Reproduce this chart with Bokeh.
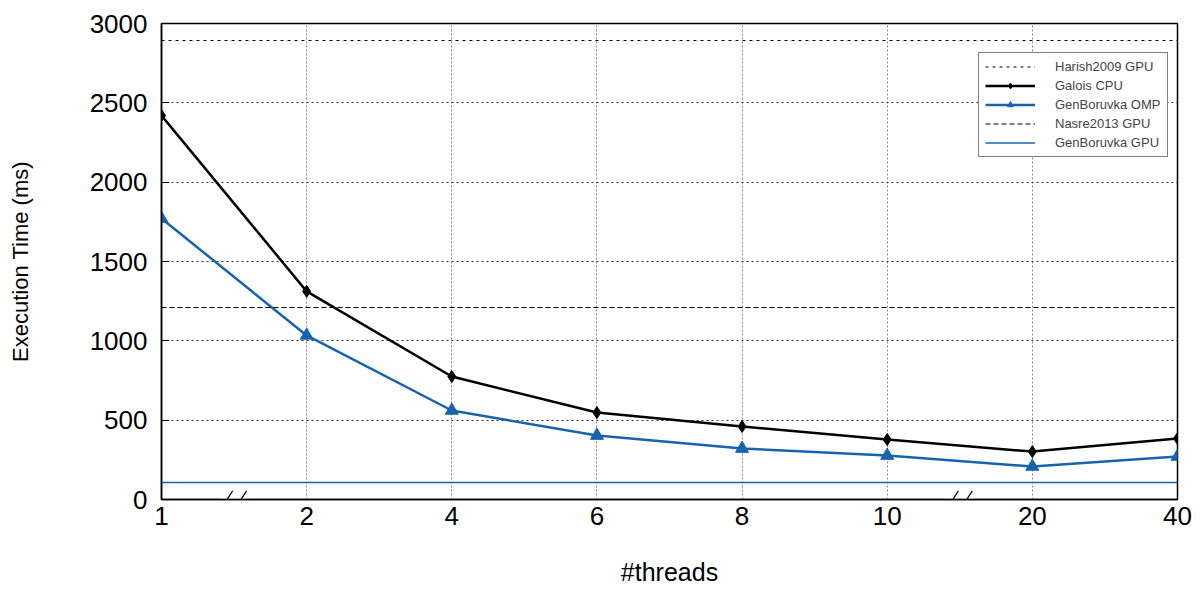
from bokeh.plotting import figure
from bokeh.models import FixedTicker, Legend, LegendItem, Range1d
from bokeh.embed import file_html
from bokeh.resources import INLINE

threads = ["1", "2", "4", "6", "8", "10", "20", "40"]
galois_cpu = [2420, 1312, 775, 548, 460, 378, 302, 384]
genboruvka_omp = [1771, 1034, 561, 403, 321, 277, 208, 271]
harish2009_gpu = 2893
nasre2013_gpu = 1210
genboruvka_gpu = 107
breaks_after = ["1", "10"]

FONT = "Liberation Sans"
BLUE = "#1764ad"

xs = list(range(len(threads)))

p = figure(width=1202, height=590, output_backend="svg", toolbar_location=None,
           x_range=Range1d(0, len(threads) - 1), y_range=Range1d(0, 3000),
           min_border_left=161, min_border_right=25, min_border_top=23, min_border_bottom=91)
p.background_fill_color = "white"
p.border_fill_color = "white"
p.outline_line_color = "black"
p.outline_line_width = 1.5

r_h = p.line(xs, [harish2009_gpu] * len(xs), line_color="black", line_width=1.2, line_dash="3 4")
r_g = p.line(xs, galois_cpu, line_color="black", line_width=2.5)
r_gm = p.scatter(xs, galois_cpu, marker="diamond", size=12, color="black")
r_o = p.line(xs, genboruvka_omp, line_color=BLUE, line_width=2.5)
r_om = p.scatter(xs, genboruvka_omp, marker="triangle", size=13, fill_color=BLUE, line_color=BLUE)
r_n = p.line(xs, [nasre2013_gpu] * len(xs), line_color="black", line_width=1.2, line_dash="5 3")
r_gg = p.line(xs, [genboruvka_gpu] * len(xs), line_color=BLUE, line_width=1.3)

# axis break marks
for b in breaks_after:
    i = threads.index(b)
    c = i + 0.5
    p.rect([c], [0], width=0.2, height=14, fill_color="white", line_color=None)
    for dx in (-0.048, 0.048):
        p.segment([c + dx - 0.038], [-54], [c + dx + 0.038], [54], line_color="black", line_width=1.2)

p.xaxis.ticker = FixedTicker(ticks=xs)
p.xaxis.major_label_overrides = {i: t for i, t in enumerate(threads)}
p.yaxis.ticker = FixedTicker(ticks=[0, 500, 1000, 1500, 2000, 2500, 3000])

for ax in (p.xaxis[0], p.yaxis[0]):
    ax.axis_line_color = "black"
    ax.axis_line_width = 1.5
    ax.major_label_text_font = FONT
    ax.major_label_text_font_size = "26px"
    ax.major_label_text_color = "black"
    ax.axis_label_text_font = FONT
    ax.axis_label_text_font_style = "normal"
    ax.axis_label_text_color = "black"
    ax.minor_tick_line_color = None
    ax.major_tick_out = 0
    ax.major_tick_in = 8
    ax.major_tick_line_color = "black"

p.xaxis.axis_label = "#threads"
p.yaxis.axis_label = "Execution Time (ms)"
p.xaxis.axis_label_text_font_size = "25px"
p.yaxis.axis_label_text_font_size = "22px"
p.xaxis.major_tick_line_color = None
p.xaxis.major_label_standoff = 7
p.yaxis.major_label_standoff = 14
p.xaxis.axis_label_standoff = 30
p.yaxis.axis_label_standoff = 54

p.xgrid.grid_line_color = "#888888"
p.xgrid.grid_line_dash = "2 2"
p.xgrid.grid_line_width = 1
p.ygrid.grid_line_color = "#333333"
p.ygrid.grid_line_dash = "2 3"
p.ygrid.grid_line_width = 1

legend = Legend(items=[
    LegendItem(label="Harish2009 GPU", renderers=[r_h]),
    LegendItem(label="Galois CPU", renderers=[r_g, r_gm]),
    LegendItem(label="GenBoruvka OMP", renderers=[r_o, r_om]),
    LegendItem(label="Nasre2013 GPU", renderers=[r_n]),
    LegendItem(label="GenBoruvka GPU", renderers=[r_gg]),
], location=(817, 342))
legend.label_text_font = FONT
legend.label_text_font_size = "13px"
legend.label_height = 15
legend.glyph_height = 15
legend.glyph_width = 50
legend.spacing = 4
legend.padding = 6
legend.margin = 0
legend.label_standoff = 20
legend.border_line_color = "black"
legend.border_line_width = 1.2
legend.background_fill_alpha = 1
p.add_layout(legend, "center")

open("out.html", "w").write(file_html(p, INLINE))
